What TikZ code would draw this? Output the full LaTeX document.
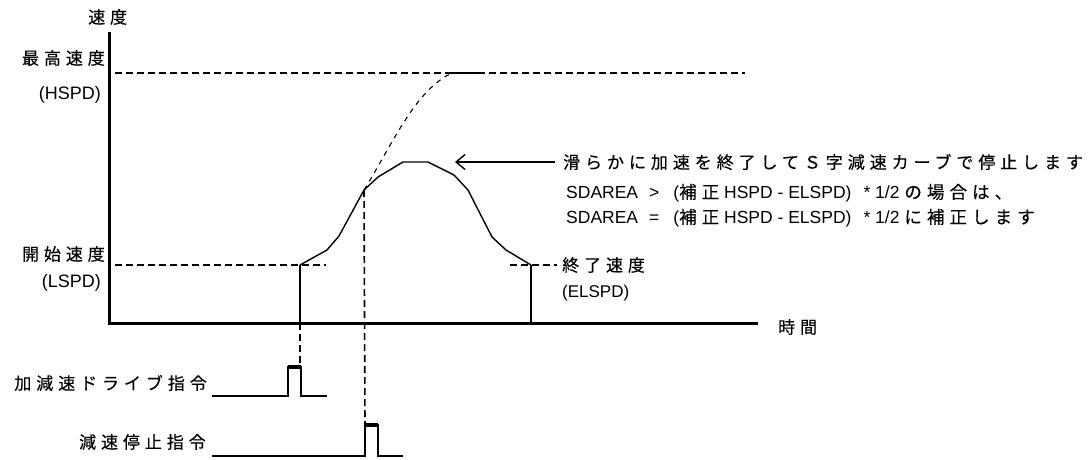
\documentclass[tikz,border=0pt]{standalone}
\usepackage{fontspec}
\setmainfont{Liberation Sans}
\newfontfamily\jp{Noto Sans CJK JP}[LetterSpace=29,FakeBold=0.3]
\newcommand\J[1]{{\jp #1}}
\usetikzlibrary{arrows.meta}
\begin{document}
\begin{tikzpicture}[x=1pt,y=-1pt,
  every node/.style={inner sep=0pt,font=\fontsize{17}{20}\selectfont},
  lab/.style={font=\fontsize{18}{20}\selectfont},
  txt/.style={font=\fontsize{17.5}{20}\selectfont},
  axis/.style={line width=3pt},
  curve/.style={line width=1.4pt,line join=round},
  riser/.style={line width=2pt},
  guide/.style={line width=1.6pt,dash pattern=on 7pt off 4pt},
  ideal/.style={line width=1.1pt,dash pattern=on 5pt off 5pt},
  sig/.style={line width=2pt},
  sigtop/.style={line width=3.5pt}]
\useasboundingbox (0,0) rectangle (1089,459);
% axes
\coordinate (O) at (109,323);
\coordinate (Ytop) at (109,32);
\coordinate (Xend) at (758,323);
\draw[axis] (Ytop) -- (O) -- (Xend);
\node[anchor=west] (vlab) at (88,17) {\J{速度}};
\node[anchor=west] (tlab) at (778,327) {\J{時間}};
% HSPD
\coordinate (h0) at (115,73);
\coordinate (h1) at (745,73);
\draw[guide] (h0) -- (h1);
\coordinate (hs0) at (452,73);
\coordinate (hs1) at (481,73);
\draw[line width=2pt] (hs0) -- (hs1);
\node[anchor=east] (hl1) at (105,58) {\J{最高速度}};
\node[lab,anchor=east] (hl2) at (101,95) {(HSPD)};
% LSPD
\coordinate (l0) at (115,265);
\coordinate (l1) at (326,265);
\draw[guide] (l0) -- (l1);
\node[anchor=east] (ll1) at (105,254) {\J{開始速度}};
\node[lab,anchor=east] (ll2) at (101,283) {(LSPD)};
% ELSPD
\coordinate (e0) at (510,265);
\coordinate (e1) at (557,265);
\draw[guide] (e0) -- (e1);
\node[anchor=west] (el1) at (562,265) {\J{終了速度}};
\node[anchor=west] (el2) at (562,293) {(ELSPD)};
% profile
\coordinate (p0) at (300,323);
\coordinate (p1) at (300,265);
\coordinate (pd) at (364,190);
\coordinate (pk) at (428,162);
\coordinate (p2) at (531,265);
\coordinate (p3) at (531,323);
\draw[curve] (p1) -- (327,250) -- (339,236) -- (pd) -- (378,177) -- (403,162) -- (pk) -- (454,175) -- (468,190) -- (492,237) -- (506,250) -- (p2);
\draw[riser] (p0) -- (p1);
\draw[riser] (p2) -- (p3);
% ideal continuation
\draw[ideal] (pd) .. controls (392,145) and (415,90) .. (hs0);
% arrow + text
\coordinate (a0) at (555,162);
\coordinate (a1) at (455,162);
\draw[line width=1.4pt,-{Straight Barb[length=9pt,width=15pt,line width=1.4pt]}] (a0) -- (a1);
\node[anchor=west] (t1) at (563,162) {\J{滑らかに加速を終了してＳ字減速カーブで停止します}};
\node[txt,anchor=west] (t2) at (566,193) {SDAREA\hspace{11pt}>\hspace{14pt}(\J{補正} HSPD - ELSPD)\hspace{12pt}* 1/2 \J{の場合は、}};
\node[txt,anchor=west] (t3) at (566,218) {SDAREA\hspace{11pt}=\hspace{14pt}(\J{補正} HSPD - ELSPD)\hspace{12pt}* 1/2 \J{に補正します}};
% command signals
\node[anchor=east] (c1) at (207,383) {\J{加減速ドライブ指令}};
\node[anchor=east] (c2) at (206,442) {\J{減速停止指令}};
\coordinate (s1a) at (212,396);
\coordinate (s1b) at (288,396);
\coordinate (s1c) at (288,367);
\coordinate (s1d) at (301,367);
\coordinate (s1e) at (301,396);
\coordinate (s1f) at (327,396);
\draw[sig] (s1a) -- (s1b) -- (s1c) -- (s1d) -- (s1e) -- (s1f);
\draw[sigtop] (s1c) -- (s1d);
\coordinate (s2a) at (212,456);
\coordinate (s2b) at (365,456);
\coordinate (s2c) at (365,425);
\coordinate (s2d) at (378,425);
\coordinate (s2e) at (378,456);
\coordinate (s2f) at (403,456);
\draw[sig] (s2a) -- (s2b) -- (s2c) -- (s2d) -- (s2e) -- (s2f);
\draw[sigtop] (s2c) -- (s2d);
% vertical guides
\coordinate (v1) at (300,367);
\coordinate (v2) at (365,425);
\draw[guide] (p0) -- (v1);
\draw[guide] (pd) -- (v2);
\end{tikzpicture}
\end{document}
